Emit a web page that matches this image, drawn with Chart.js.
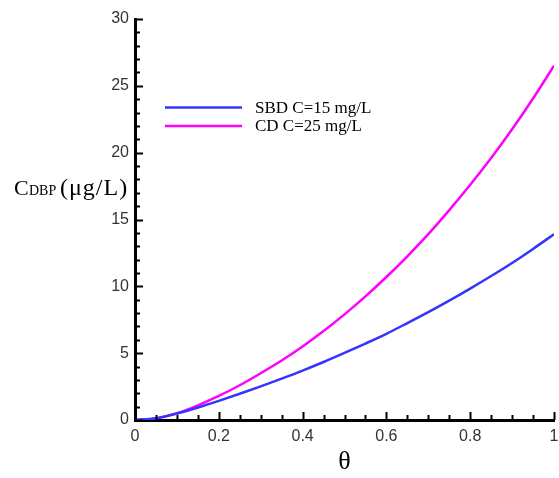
<!DOCTYPE html>
<html>
<head>
<meta charset="utf-8">
<script src="https://cdn.jsdelivr.net/npm/chart.js@4"></script>
<style>
  html, body { margin: 0; padding: 0; background: #fff; }
  #wrap { width: 559px; height: 478px; }
</style>
</head>
<body>
<div id="wrap"><canvas id="c"></canvas></div>
<script>
// values
const theta = [0, 0.05, 0.1, 0.15, 0.2, 0.25, 0.3, 0.35, 0.4, 0.45, 0.5,
  0.55, 0.6, 0.65, 0.7, 0.75, 0.8, 0.85, 0.9, 0.95, 1];
const sbdValues = [0, 0.13, 0.48, 0.93, 1.43, 1.96, 2.52, 3.1, 3.7, 4.34, 5.02,
  5.72, 6.45, 7.25, 8.07, 8.93, 9.83, 10.77, 11.75, 12.8, 13.9];
const cdValues = [0, 0.12, 0.5, 1.1, 1.8, 2.6, 3.5, 4.45, 5.5, 6.65, 7.9,
  9.25, 10.7, 12.25, 13.9, 15.7, 17.6, 19.6, 21.75, 24.05, 26.5];
const seriesLabels = ['SBD C=15 mg/L', 'CD C=25 mg/L'];
const seriesColors = ['#3434ff', '#ff00ff'];

const xTickValues = [0, 0.2, 0.4, 0.6, 0.8, 1];
const yTickValues = [0, 5, 10, 15, 20, 25, 30];
const xMinorStep = 0.05;
const yMinorStep = 1;

const xTitle = 'θ';
const yTitleMain = 'C';
const yTitleSub = 'DBP';
const yTitleUnit = '(μg/L)';

// tick marks point into the plot, so draw them ourselves from the scales
const innerTicks = {
  id: 'innerTicks',
  afterDraw(chart) {
    const { ctx, chartArea: a, scales: { x, y } } = chart;
    ctx.save();
    ctx.strokeStyle = '#000';
    ctx.lineWidth = 2;
    const yCount = Math.round((y.max - y.min) / yMinorStep);
    for (let i = 0; i <= yCount; i++) {
      const v = y.min + i * yMinorStep;
      const major = yTickValues.some(t => Math.abs(t - v) < 1e-6);
      const py = Math.round(y.getPixelForValue(v)) + 0.5;
      ctx.beginPath();
      ctx.moveTo(a.left, py);
      ctx.lineTo(a.left + (major ? 8 : 5), py);
      ctx.stroke();
    }
    const xCount = Math.round((x.max - x.min) / xMinorStep);
    for (let i = 0; i <= xCount; i++) {
      const v = x.min + i * xMinorStep;
      const major = xTickValues.some(t => Math.abs(t - v) < 1e-6);
      const px = Math.round(x.getPixelForValue(v)) + 0.5;
      ctx.beginPath();
      ctx.moveTo(px, a.bottom);
      ctx.lineTo(px, a.bottom - (major ? 8 : 5));
      ctx.stroke();
    }
    ctx.restore();
  }
};

// y title with a subscript
const yTitle = {
  id: 'yTitle',
  afterDraw(chart) {
    const ctx = chart.ctx;
    ctx.save();
    ctx.fillStyle = '#000';
    ctx.textBaseline = 'alphabetic';
    ctx.font = '22px "Liberation Serif"';
    ctx.fillText(yTitleMain, 14, 195);
    ctx.font = '14px "Liberation Serif"';
    ctx.fillText(yTitleSub, 29, 195);
    ctx.font = '24px "Liberation Serif"';
    ctx.letterSpacing = '1px';
    ctx.fillText(yTitleUnit, 60, 195);
    ctx.restore();
  }
};

// legend sits inside the plot with long line samples
const lineLegend = {
  id: 'lineLegend',
  afterDraw(chart) {
    const ctx = chart.ctx;
    const rows = [107.5, 126];
    ctx.save();
    ctx.font = '17px "Liberation Serif"';
    ctx.textBaseline = 'middle';
    chart.data.datasets.forEach((ds, i) => {
      ctx.strokeStyle = ds.borderColor;
      ctx.lineWidth = 2.5;
      ctx.beginPath();
      ctx.moveTo(165, rows[i]);
      ctx.lineTo(242, rows[i]);
      ctx.stroke();
      ctx.fillStyle = '#000';
      ctx.fillText(ds.label, 255, rows[i] + 1);
    });
    ctx.restore();
  }
};

const tickFont = { family: '"Liberation Sans"', size: 16 };

new Chart(document.getElementById('c'), {
  type: 'line',
  data: {
    datasets: [
      {
        label: seriesLabels[0],
        data: theta.map((t, i) => ({ x: t, y: sbdValues[i] })),
        borderColor: seriesColors[0],
      },
      {
        label: seriesLabels[1],
        data: theta.map((t, i) => ({ x: t, y: cdValues[i] })),
        borderColor: seriesColors[1],
      },
    ],
  },
  options: {
    responsive: true,
    maintainAspectRatio: false,
    animation: false,
    layout: { padding: { top: 19, right: 5, left: 0, bottom: 0 } },
    elements: {
      line: { borderWidth: 2.5, cubicInterpolationMode: 'monotone', fill: false },
      point: { radius: 0 },
    },
    plugins: {
      legend: { display: false },
      tooltip: { enabled: false },
    },
    scales: {
      x: {
        type: 'linear',
        min: 0,
        max: 1,
        afterBuildTicks: s => { s.ticks = xTickValues.map(v => ({ value: v })); },
        afterFit: s => { s.height = 58; s.paddingLeft = 0; s.paddingRight = 0; },
        grid: { display: false, drawTicks: false },
        border: { display: true, color: '#000', width: 3 },
        ticks: {
          font: tickFont, color: '#333', padding: 7, maxRotation: 0, autoSkip: false,
          callback: v => String(v),
        },
        title: {
          display: true,
          text: xTitle,
          color: '#000',
          font: { family: '"Liberation Serif"', size: 26 },
          padding: { top: 8, bottom: 0 },
        },
      },
      y: {
        type: 'linear',
        min: 0,
        max: 30,
        afterBuildTicks: s => { s.ticks = yTickValues.map(v => ({ value: v })); },
        afterFit: s => { s.width = 135; },
        grid: { display: false, drawTicks: false },
        border: { display: true, color: '#000', width: 3 },
        ticks: { font: tickFont, color: '#333', padding: 6, autoSkip: false },
      },
    },
  },
  plugins: [innerTicks, yTitle, lineLegend],
});
</script>
</body>
</html>
